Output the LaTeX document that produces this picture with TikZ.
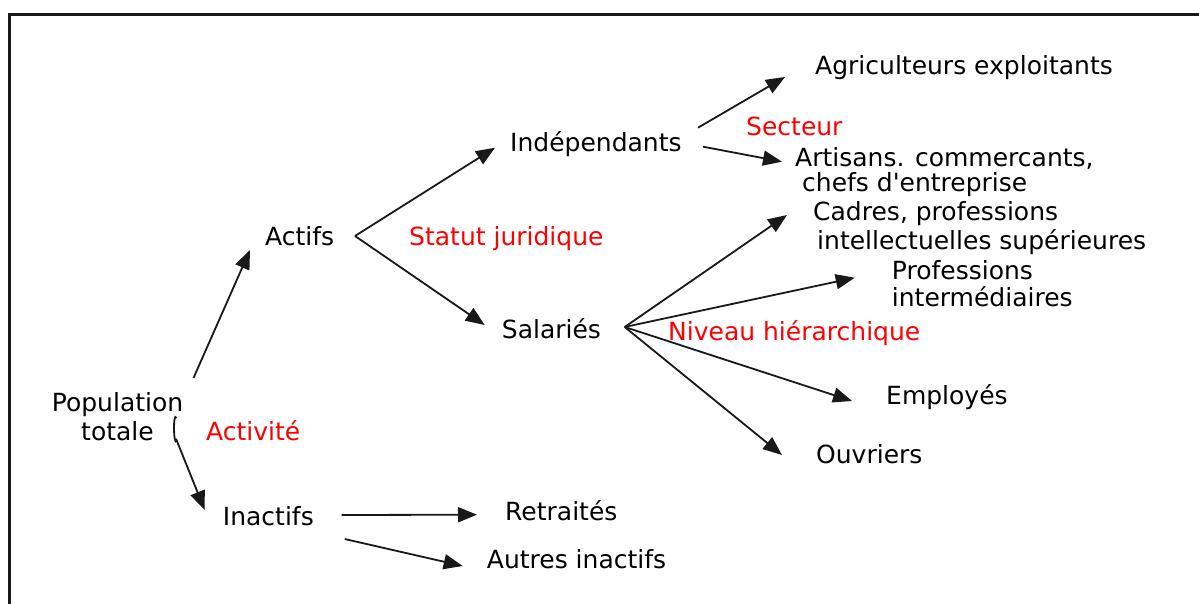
\documentclass[tikz,border=0pt]{standalone}
\usepackage{fontspec}
\setmainfont{DejaVu Sans}
\usetikzlibrary{arrows.meta}
\tikzset{
  lbl/.style={inner sep=0pt, anchor=base west, font=\fontsize{25}{28}\selectfont, text=black},
  redlbl/.style={lbl, text=red},
  arr/.style={line width=1.8pt, draw=black!90, -{Triangle[length=19pt,width=15pt]}},
}
\begin{document}
\begin{tikzpicture}[x=1pt,y=-1pt]
\useasboundingbox (0,0) rectangle (1199,604);
% frame
\draw[line width=3pt, black!90] (1199,15) -- (9,15) -- (9,604);
% nodes (multi-line nodes are placed at the baseline of their last line)
\node[lbl, anchor=base, align=center, font=\fontsize{25}{28.5}\selectfont] (pop) at (117.5,440) {Population\\totale};
\node[redlbl] (activ) at (206,440.7) {Activité};
\node[lbl] (actifs) at (265,245) {Actifs};
\node[lbl] (inact) at (222.7,525) {Inactifs};
\node[redlbl] (statut) at (409,245) {Statut juridique};
\node[lbl] (indep) at (510,151.7) {Indépendants};
\node[lbl] (sal) at (501.7,338) {Salariés};
\node[redlbl] (secteur) at (746,136) {Secteur};
\node[lbl] (agri) at (815,75) {Agriculteurs exploitants};
\node[lbl, align=left, font=\fontsize{25}{25.5}\selectfont] (art) at (795,191.7) {Artisans. commercants,\\\hspace*{7pt}chefs d\textquotesingle entreprise};
\node[lbl, align=left, font=\fontsize{25}{29}\selectfont] (cad) at (813,249) {Cadres, professions\\\hspace*{4pt}intellectuelles supérieures};
\node[lbl, align=left, font=\fontsize{25}{27.7}\selectfont] (prof) at (891.7,306.7) {Professions\\intermédiaires};
\node[redlbl] (niv) at (668,340) {Niveau hiérarchique};
\node[lbl] (empl) at (886,404) {Employés};
\node[lbl] (ouv) at (816,463) {Ouvriers};
\node[lbl] (ret) at (505,520.7) {Retraités};
\node[lbl] (aut) at (486.7,568) {Autres inactifs};
% connectors
\draw[arr] ([shift={(76,-62)}]pop.base) -- ([shift={(-15,5)}]actifs.base west);
\draw[arr] ([shift={(59,-22)}]pop.base) to[out=115,in=250] ++(0,22) -- ([shift={(-18,-15)}]inact.base west);
\draw[arr] ([shift={(90,-9)}]actifs.base west) -- ([shift={(-15,-4)}]indep.base west);
\draw[arr] ([shift={(90,-9)}]actifs.base west) -- ([shift={(-17,-13)}]sal.base west);
\draw[arr] ([shift={(188,-24)}]indep.base west) -- ([shift={(-30,2)}]agri.base west);
\draw[arr] ([shift={(193,-5)}]indep.base west) -- ([shift={(-13,-30)}]art.base west);
\draw[arr] ([shift={(123,-11)}]sal.base west) -- ([shift={(-26,-34)}]cad.base west);
\draw[arr] ([shift={(123,-11)}]sal.base west) -- ([shift={(-37,-29)}]prof.base west);
\draw[arr] ([shift={(123,-11)}]sal.base west) -- ([shift={(-34,-3)}]empl.base west);
\draw[arr] ([shift={(123,-11)}]sal.base west) -- ([shift={(-34,-8)}]ouv.base west);
\draw[arr] ([shift={(119,-10)}]inact.base west) -- ([shift={(-28,-6)}]ret.base west);
\draw[arr] ([shift={(122,14)}]inact.base west) -- ([shift={(-24,-2)}]aut.base west);
\end{tikzpicture}
\end{document}
